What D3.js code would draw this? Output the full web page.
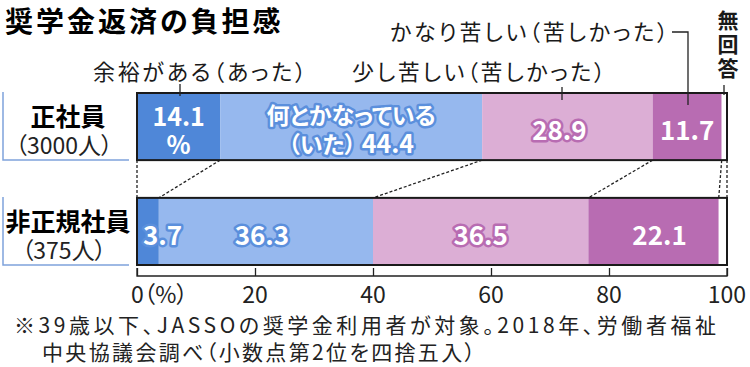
<!DOCTYPE html>
<html>
<head>
<meta charset="utf-8">
<script src="https://cdn.jsdelivr.net/npm/d3@7"></script>
<style>
  body { margin: 0; background: #fff; }
  text { font-family: "Noto Sans CJK JP", sans-serif; font-feature-settings: "palt"; }
</style>
</head>
<body>
<svg id="chart" width="750" height="367"></svg>
<script>
// data
const groups = ["正社員", "非正規社員"];
const groupCounts = ["（3000人）", "（375人）"];
const categories = ["余裕がある（あった）", "何とかなっている（いた）", "少し苦しい（苦しかった）", "かなり苦しい（苦しかった）", "無回答"];
const seriesRegular = [14.1, 44.4, 28.9, 11.7, 0.9];
const seriesIrregular = [3.7, 36.3, 36.5, 22.1, 1.4];
const tickValues = [0, 20, 40, 60, 80, 100];
const tickLabels = ["0（%）", "20", "40", "60", "80", "100"];

const colors = ["#4f87d8", "#96b8ee", "#dcaed5", "#b86cb2", "#ffffff"];
const halo = ["none", "#5b8fdc", "#b86cb2", "none", "none"];

const svg = d3.select("#chart");
const x = d3.scaleLinear().domain([0, 100]).range([137, 727]);
const y = d3.scaleBand().domain(groups).range([93, 265]).paddingInner(0.36);

// title
svg.append("text")
  .attr("x", 5).attr("y", 32)
  .attr("font-size", 28).attr("font-weight", "bold")
  .attr("letter-spacing", 3)
  .text("奨学金返済の負担感");

const rows = [seriesRegular, seriesIrregular].map((vals, i) => {
  let acc = 0;
  const segs = vals.map((v, j) => {
    const s = { group: groups[i], cat: j, v, x0: acc, x1: acc + v };
    acc += v;
    return s;
  });
  return { group: groups[i], segs };
});

// dashed connectors between rows
const bounds1 = [0].concat(rows[0].segs.map(s => s.x1));
const bounds2 = [0].concat(rows[1].segs.map(s => s.x1));
bounds1[bounds1.length - 1] = 100;
bounds2[bounds2.length - 1] = 100;
svg.append("g").selectAll("line")
  .data(bounds1.map((b, i) => [b, bounds2[i]]))
  .join("line")
  .attr("x1", d => x(d[0])).attr("y1", y(groups[0]) + y.bandwidth())
  .attr("x2", d => x(d[1])).attr("y2", y(groups[1]))
  .attr("stroke", "#222").attr("stroke-width", 1.3)
  .attr("stroke-dasharray", "3,2");

// bars
const rowG = svg.append("g").selectAll("g")
  .data(rows)
  .join("g")
  .attr("transform", d => `translate(0,${y(d.group)})`);

rowG.selectAll("rect.seg")
  .data(d => d.segs)
  .join("rect")
  .attr("class", "seg")
  .attr("x", d => x(d.x0))
  .attr("width", d => x(d.x1) - x(d.x0))
  .attr("y", 0)
  .attr("height", y.bandwidth())
  .attr("fill", d => colors[d.cat]);

rowG.append("rect")
  .attr("x", x(0)).attr("width", x(100) - x(0))
  .attr("y", 0).attr("height", y.bandwidth())
  .attr("fill", "none").attr("stroke", "#1a1a1a").attr("stroke-width", 2);

// left labels with bracket
rowG.append("path")
  .attr("d", `M3,-1V${y.bandwidth()}H129`)
  .attr("fill", "none").attr("stroke", "#7fa3db").attr("stroke-width", 1.5);
rowG.append("text")
  .attr("x", 68).attr("y", 33)
  .attr("text-anchor", "middle")
  .attr("font-size", 25).attr("font-weight", "bold")
  .text(d => d.group);
rowG.append("text")
  .attr("x", 64).attr("y", 61)
  .attr("text-anchor", "middle")
  .attr("font-size", 23).attr("fill", "#222")
  .text((d, i) => groupCounts[i]);

// segment value labels
function valueLabel(sel, lines, cx, cat, size) {
  const t = sel.append("text")
    .attr("text-anchor", "middle")
    .attr("font-size", size).attr("font-weight", "bold")
    .attr("fill", "#fff")
    .attr("stroke", halo[cat]).attr("stroke-width", halo[cat] === "none" ? 0 : 5)
    .attr("stroke-linejoin", "round")
    .attr("paint-order", "stroke");
  lines.forEach((ln, k) => {
    t.append("tspan").attr("x", cx)
      .attr("y", lines.length === 1 ? 47 : 33 + k * 28)
      .text(ln);
  });
}
const r1 = rowG.filter((d, i) => i === 0);
const s1 = rows[0].segs;
valueLabel(r1, [String(s1[0].v), "%"], x((s1[0].x0 + s1[0].x1) / 2), 0, 25);
r1.call(g => {
  const cx = x((s1[1].x0 + s1[1].x1) / 2);
  const t = g.append("text")
    .attr("text-anchor", "middle").attr("fill", "#fff")
    .attr("stroke", halo[1]).attr("stroke-width", 5)
    .attr("stroke-linejoin", "round").attr("paint-order", "stroke")
    .attr("font-weight", "bold");
  t.append("tspan").attr("x", cx).attr("y", 31).attr("font-size", 23).text("何とかなっている");
  const t2 = t.append("tspan").attr("x", cx).attr("y", 60);
  t2.append("tspan").attr("font-size", 23).text("（いた）");
  t2.append("tspan").attr("font-size", 25).text(" " + s1[1].v);
});
valueLabel(r1, [String(s1[2].v)], x((s1[2].x0 + s1[2].x1) / 2) - 8, 2, 26);
valueLabel(r1, [String(s1[3].v)], x((s1[3].x0 + s1[3].x1) / 2), 3, 26);

const r2 = rowG.filter((d, i) => i === 1);
const s2 = rows[1].segs;
r2.append("text")
  .attr("x", x(s2[0].x0) + 6).attr("y", 47)
  .attr("font-size", 26).attr("font-weight", "bold").attr("fill", "#fff")
  .attr("stroke", halo[1]).attr("stroke-width", 5)
  .attr("stroke-linejoin", "round").attr("paint-order", "stroke")
  .text(s2[0].v);
valueLabel(r2, [String(s2[1].v)], x((s2[1].x0 + s2[1].x1) / 2) - 4, 1, 26);
valueLabel(r2, [String(s2[2].v)], x((s2[2].x0 + s2[2].x1) / 2), 2, 26);
valueLabel(r2, [String(s2[3].v)], x((s2[3].x0 + s2[3].x1) / 2) + 6, 3, 26);

// category callouts above the first bar
const barTop = y(groups[0]);
const callouts = svg.append("g").attr("font-size", 22).attr("fill", "#1a1a1a");
callouts.append("text").attr("x", 93).attr("y", 80)
  .attr("textLength", 213).attr("lengthAdjust", "spacing").text(categories[0]);
callouts.append("line")
  .attr("x1", 180).attr("x2", 180).attr("y1", 84).attr("y2", barTop + 3)
  .attr("stroke", "#222").attr("stroke-width", 1.3);
callouts.append("text").attr("x", 352).attr("y", 80)
  .attr("textLength", 253).attr("lengthAdjust", "spacing").text(categories[2]);
callouts.append("line")
  .attr("x1", 562).attr("x2", 562).attr("y1", 87).attr("y2", barTop + 7)
  .attr("stroke", "#222").attr("stroke-width", 1.3);
callouts.append("text").attr("x", 390).attr("y", 40)
  .attr("textLength", 278).attr("lengthAdjust", "spacing").text(categories[3]);
callouts.append("path")
  .attr("d", `M672,32H688V${barTop + 12}`)
  .attr("fill", "none").attr("stroke", "#222").attr("stroke-width", 1.3);
const na = callouts.append("text").attr("text-anchor", "middle").attr("font-weight", "bold").attr("font-size", 21);
Array.from(categories[4]).forEach((ch, k) => {
  na.append("tspan").attr("x", 728).attr("y", 28 + k * 24).text(ch);
});
callouts.append("line")
  .attr("x1", 724).attr("x2", 724).attr("y1", 85).attr("y2", barTop + 2)
  .attr("stroke", "#222").attr("stroke-width", 1.3);

// axis
const axisY = 276;
const axis = d3.axisTop(x).tickValues(tickValues).tickSize(8).tickFormat("");
const ag = svg.append("g").attr("transform", `translate(0,${axisY})`).call(axis);
ag.select(".domain").attr("d", `M${x(0)},-8V0H${x(100)}V-8`).attr("stroke", "#222").attr("stroke-width", 1.3);
ag.selectAll(".tick line").attr("stroke", "#222").attr("stroke-width", 1.3);
svg.append("g").selectAll("text")
  .data(tickValues)
  .join("text")
  .attr("x", (d, i) => i === 0 ? x(d) - 6 : x(d))
  .attr("y", 303)
  .attr("text-anchor", (d, i) => i === 0 ? "start" : "middle")
  .attr("font-size", 23).attr("fill", "#222")
  .text((d, i) => tickLabels[i]);

// footnote
svg.append("text")
  .attr("x", 14).attr("y", 333)
  .attr("font-size", 21).attr("fill", "#222")
  .attr("textLength", 702).attr("lengthAdjust", "spacing")
  .text("※39歳以下、JASSOの奨学金利用者が対象。2018年、労働者福祉");
svg.append("text")
  .attr("x", 42).attr("y", 360)
  .attr("font-size", 21).attr("fill", "#222")
  .attr("textLength", 433).attr("lengthAdjust", "spacing")
  .text("中央協議会調べ（小数点第2位を四捨五入）");
</script>
</body>
</html>
